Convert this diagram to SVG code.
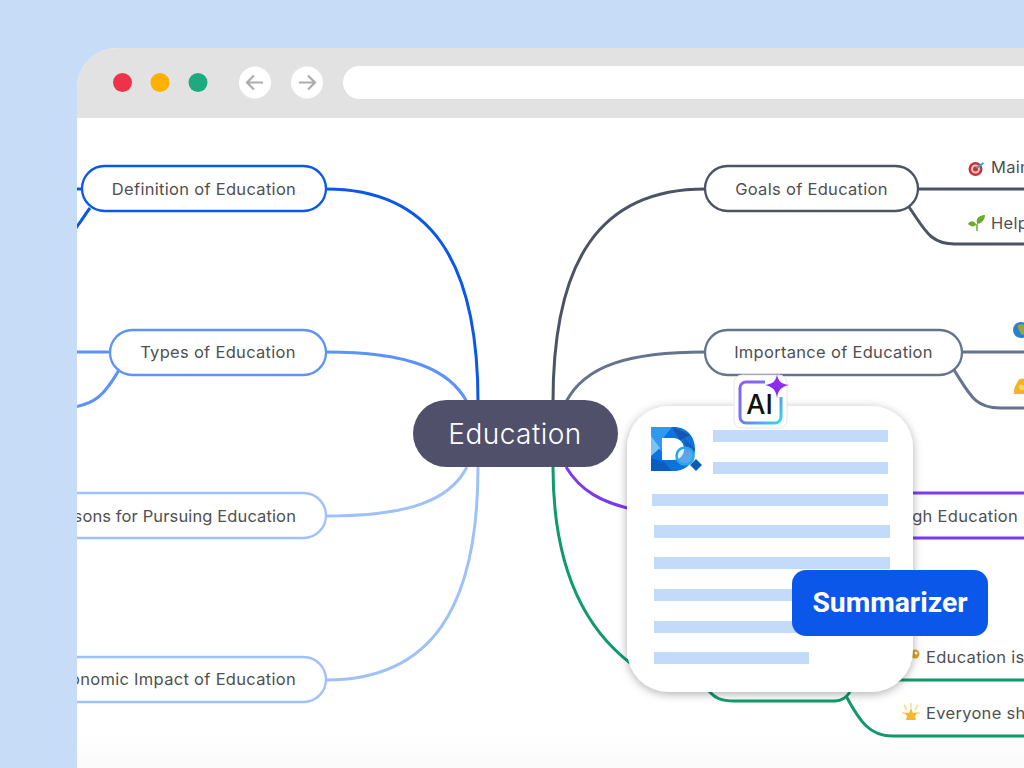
<svg xmlns="http://www.w3.org/2000/svg" width="1024" height="768" viewBox="0 0 1024 768">
<defs>
<style>
.n{fill:#fff;stroke-width:2.300}
.c{fill:none;stroke-width:3}
.t{font-family:Inter,"Noto Sans",sans-serif;font-size:16.500px;fill:#505050;letter-spacing:.3px}
.bar{fill:#c3dafa}
.e1{stroke:#0b57ea}.e2{stroke:#5c93f8}.e3{stroke:#9fc1fb}.e4{stroke:#4b5366}.e5{stroke:#64748f}.e6{stroke:#7c3aed}.e7{stroke:#109a6b}
</style>
<filter id="sh" x="-20%" y="-20%" width="140%" height="140%"><feDropShadow dx="0" dy="2" stdDeviation="5" flood-color="#000" flood-opacity=".32"/></filter>
<linearGradient id="g" x1="0" y1="0" x2="1" y2="1"><stop offset="0" stop-color="#8b5cf6"/><stop offset=".5" stop-color="#6d7cf0"/><stop offset="1" stop-color="#2fdcf0"/></linearGradient>
<linearGradient id="st" x1="0" y1="1" x2="1" y2="0"><stop offset="0" stop-color="#6a2bf0"/><stop offset="1" stop-color="#b02cf0"/></linearGradient>
<linearGradient id="fade" x1="0" y1="0" x2="0" y2="1"><stop offset="0" stop-color="#fafafa" stop-opacity="0"/><stop offset="1" stop-color="#fafafa"/></linearGradient>
<clipPath id="win"><path d="M77 768V88a40 40 0 0 1 40-40H1024V768Z"/></clipPath>
<clipPath id="dclip"><path clip-rule="evenodd" d="M651 427H674C687 427 695 437 695 449C695 461 687 471 674 471H651ZM662 438V460H673C680 460 684 455 684 449C684 443 680 438 673 438Z"/></clipPath>
</defs>
<rect width="1024" height="768" fill="#c7dcf7"/>
<g clip-path="url(#win)">
<rect x="77" y="48" width="947" height="720" fill="#fff"/>
<rect x="77" y="735" width="947" height="33" fill="url(#fade)"/>
<rect x="77" y="48" width="947" height="70" fill="#e2e2e2"/>
<g id="connectors">
<path class="c e1" d="M326 189C430 189 478 260 478 402"/>
<path class="c e1" d="M60 189H82M90 208C84 216 80 223 70 236"/>
<path class="c e2" d="M326 352C410 352 450 370 467 402"/>
<path class="c e2" d="M60 352H110M119 370C106 392 96 408 60 408"/>
<path class="c e3" d="M326 516C410 516 450 500 467 467"/>
<path class="c e3" d="M326 680C430 680 478 610 478 467"/>
<path class="c e4" d="M705 189C600 189 553 260 553 402"/>
<path class="c e4" d="M918 189H1030M909 207C925 230 930 244 955 244H1030"/>
<path class="c e5" d="M705 352C630 352 585 365 566 402"/>
<path class="c e5" d="M962 352H1030M954 370C970 395 975 408 1000 408H1030"/>
<path class="c e6" d="M566 467C580 490 600 503 640 511"/>
<path class="c e6" d="M900 493H1030M900 538H1030"/>
<path class="c e7" d="M553 467C553 560 580 630 640 670"/>
<path class="c e7" d="M708 690C715 698 720 701 735 701H835C842 701 846 698 850 692"/>
<path class="c e7" d="M895 680H1030M846 696C860 722 870 736 892 736H1030"/>
</g>
<g id="node-definition"><rect class="n e1" x="82" y="166" width="244" height="45" rx="22.500"/><text class="t" x="204" y="195" text-anchor="middle">Definition of Education</text></g>
<g id="node-types"><rect class="n e2" x="110" y="330" width="216" height="45" rx="22.500"/><text class="t" x="218" y="358" text-anchor="middle">Types of Education</text></g>
<g id="node-reasons"><rect class="n e3" x="30" y="493" width="296" height="45" rx="22.500"/><text class="t" x="296" y="522" text-anchor="end" style="letter-spacing:.12px">sons for Pursuing Education</text></g>
<g id="node-economic"><rect class="n e3" x="30" y="657" width="296" height="45" rx="22.500"/><text class="t" x="296" y="685" text-anchor="end">onomic Impact of Education</text></g>
<g id="node-goals"><rect class="n e4" x="705" y="166" width="213" height="45" rx="22.500"/><text class="t" x="811.500" y="195" text-anchor="middle">Goals of Education</text></g>
<g id="node-importance"><rect class="n e5" x="705" y="330" width="257" height="45" rx="22.500"/><text class="t" x="833.500" y="358" text-anchor="middle">Importance of Education</text></g>
<g id="node-center"><rect x="413" y="400" width="205" height="67" rx="33.500" fill="#50506a"/><text x="515" y="444" text-anchor="middle" font-family="Inter,'Noto Sans',sans-serif" font-weight="300" font-size="28" letter-spacing=".45" fill="#fff">Education</text></g>
<g id="leaf-main"><g transform="translate(975.500 169)"><circle r="7" fill="#c9323c"/><circle r="4.500" fill="#ecc4bd"/><circle r="2.500" fill="#c9323c"/><path d="M1 -1L8 -6" stroke="#3aa8b8" stroke-width="2"/></g><text class="t" x="991" y="173">Main</text></g>
<g id="leaf-help"><g fill="#6bab2e"><path d="M977 231V224" stroke="#6bab2e" stroke-width="1.500"/><path d="M977 223C975 217 982 215 985 215C985 220 981 224 977 224Z"/><path d="M976 224C973 220 970 221 968 224C971 227 974 227 976 225Z"/></g><text class="t" x="991" y="229">Help</text></g>
<g id="leaf-world"><circle cx="1021" cy="330" r="8" fill="#2a7fd0"/><path d="M1018 325C1022 323 1027 325 1028 329C1026 334 1023 336 1021 334C1020 331 1017 329 1018 325Z" fill="#9aa53c"/></g>
<g id="leaf-arm"><path d="M1014 394C1013 389 1016 385 1018 381C1020 378 1024 378 1024 380V394Z" fill="#f2b52a"/><path d="M1019 386C1020 384 1022 384 1024 386V390H1020Z" fill="#fbd467"/></g>
<g id="leaf-through"><text class="t" x="1018" y="522" text-anchor="end">gh Education</text></g>
<g id="leaf-key"><circle cx="915" cy="654" r="4.500" fill="#d9a125"/><circle cx="916" cy="653" r="1.500" fill="#fff"/><text class="t" x="926" y="663">Education is</text></g>
<g id="leaf-star"><path d="M911 708L913 713L918 712.500L915 716L916 720H906L907 716L904 712.500L909 713Z" fill="#f5b92e"/><path d="M904 705L907 710M911 703V708M918 705L915 710M902 713L905 713M920 713L917 713" stroke="#f9dd8c" stroke-width="1.500"/><text class="t" x="926" y="719">Everyone sh</text></g>
<g id="card"><rect x="627" y="406" width="286" height="286" rx="42" fill="#fff" filter="url(#sh)"/>
<rect class="bar" x="713" y="430" width="175" height="12"/><rect class="bar" x="713" y="462" width="175" height="12"/><rect class="bar" x="652" y="494" width="236" height="12"/><rect class="bar" x="654" y="525" width="236" height="13"/><rect class="bar" x="654" y="557" width="236" height="12"/><rect class="bar" x="654" y="589" width="236" height="12"/><rect class="bar" x="654" y="621" width="236" height="12"/><rect class="bar" x="654" y="652" width="155" height="12"/>
</g>
<g id="logo"><g clip-path="url(#dclip)"><rect x="651" y="427" width="45" height="45" fill="#0b74dc"/><path d="M651 427H672L662 440V452L651 440Z" fill="#2f9af0"/><path d="M651 436L660 448L651 456Z" fill="#7cc4f5"/><path d="M651 458L664 462L672 471H651Z" fill="#0a5cc0"/><path d="M672 427L690 435L680 440Z" fill="#1a54b0"/><path d="M684 438L696 450L686 452Z" fill="#1a5cc0"/></g><circle cx="685" cy="456" r="8.500" fill="#bfe2fb" fill-opacity=".45" stroke="#22a7f0" stroke-width="2.500"/><path d="M696 459L702 465L696 471L690 465Z" fill="#0a5cb8"/></g>
<g id="ai-badge"><rect x="734" y="375" width="53" height="53" rx="8" fill="#fff" stroke="#e6e6e6"/><path d="M765 382H746A6 6 0 0 0 740 388V417A6 6 0 0 0 746 423H775A6 6 0 0 0 781 417V397" fill="none" stroke="url(#g)" stroke-width="3"/><text x="759.500" y="414" text-anchor="middle" font-family="Inter,'Liberation Sans',sans-serif" font-weight="500" font-size="27" fill="#111">AI</text><path d="M777 374C778 381 781 384 789 385C781 387 778 390 777 398C776 390 773 387 765 385C773 384 776 381 777 374Z" fill="url(#st)"/></g>
<g id="summarizer"><rect x="792" y="570" width="196" height="66" rx="14" fill="#0b57ea"/><text x="890" y="612" text-anchor="middle" font-family="Roboto,'Liberation Sans',sans-serif" font-size="28.300" font-weight="700" fill="#fff">Summarizer</text></g>
<g id="browser-chrome">
<circle cx="122.500" cy="82.500" r="9.500" fill="#ee3349"/><circle cx="160" cy="82.500" r="9.500" fill="#ffb000"/><circle cx="198" cy="82.500" r="9.500" fill="#1bab7e"/>
<circle cx="255" cy="82.500" r="16" fill="#fff"/><circle cx="307" cy="82.500" r="16" fill="#fff"/>
<path d="M263 82.500H248M254 75.500L247 82.500L254 89.500M299 82.500H314M308 75.500L315 82.500L308 89.500" fill="none" stroke="#acacac" stroke-width="2.200"/>
<rect x="343" y="66" width="720" height="33" rx="16.500" fill="#fff"/>
</g>
</g>
</svg>
